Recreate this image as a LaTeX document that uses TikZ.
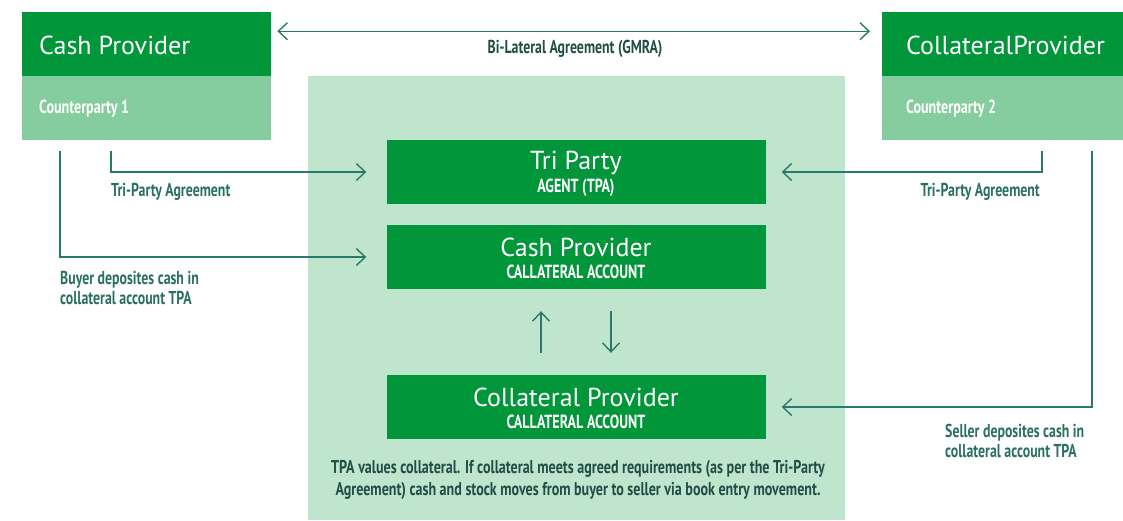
\documentclass[tikz,border=0pt]{standalone}
\usepackage{fontspec}
\setmainfont{PT Sans}
\newfontfamily\condf[FakeStretch=0.74]{PT Sans}
\newfontfamily\condn[FakeStretch=0.76]{PT Sans}
\usetikzlibrary{arrows.meta}
\definecolor{dkgreen}{RGB}{0,150,57}
\definecolor{ltgreen}{RGB}{133,204,158}
\definecolor{panel}{RGB}{192,229,206}
\definecolor{linec}{RGB}{40,122,106}
\definecolor{labelc}{RGB}{42,112,98}
\definecolor{darkc}{RGB}{32,78,70}
\tikzset{
  darkbox/.style={fill=dkgreen, draw=none, inner sep=0pt, anchor=north west},
  lightbox/.style={fill=ltgreen, draw=none, inner sep=0pt, anchor=north west},
  midbox/.style={fill=dkgreen, draw=none, inner sep=0pt, minimum width=379pt, minimum height=64pt},
  title/.style={text=white, font=\fontsize{26}{30}\selectfont, inner sep=0pt},
  subtitle/.style={text=white, font=\condf\bfseries\fontsize{19}{22}\selectfont, inner sep=0pt},
  lbl/.style={text=labelc, font=\condf\bfseries\fontsize{18.7}{20}\selectfont, inner sep=0pt, align=left},
  conn/.style={draw=linec, line width=1.4pt, arrows={-Straight Barb[length=9pt,width=17pt,line width=1.4pt]}},
}
\begin{document}
\begin{tikzpicture}[x=1pt,y=-1pt]
\useasboundingbox (0,0) rectangle (1123,520);
% panel
\node[fill=panel, inner sep=0pt, anchor=north west, minimum width=537pt, minimum height=444pt] (pnl) at (308,76) {};
% top boxes
\node[darkbox, minimum width=249pt, minimum height=64pt] (cp) at (22,12) {};
\node[lightbox, minimum width=249pt, minimum height=64pt] (cpl) at (22,76) {};
\node[darkbox, minimum width=241pt, minimum height=64pt] (col) at (882,12) {};
\node[lightbox, minimum width=241pt, minimum height=64pt] (coll) at (882,76) {};
\node[title, anchor=west] (cpt) at (39,45) {Cash Provider};
\node[subtitle, anchor=west] (cpst) at (39,109) {Counterparty 1};
\node[title, anchor=west] (colt) at (906,45) {CollateralProvider};
\node[subtitle, anchor=west] (colst) at (906,109) {Counterparty 2};
% center boxes
\node[midbox] (tpa) at (576,172) {};
\node[midbox] (cpa) at (576,257) {};
\node[midbox] (cola) at (576,407) {};
\node[title] (tpat) at (576,163) {Tri Party};
\node[subtitle] (tpas) at (576,188) {AGENT (TPA)};
\node[title] (cpat) at (576,247) {Cash Provider};
\node[subtitle] (cpas) at (576,272) {CALLATERAL ACCOUNT};
\node[title] (colat) at (576,397) {Collateral Provider};
\node[subtitle] (colas) at (576,422) {CALLATERAL ACCOUNT};
% bilateral
\draw[conn, arrows={Straight Barb[length=9pt,width=17pt,line width=1.4pt]-Straight Barb[length=9pt,width=17pt,line width=1.4pt]}] ([xshift=6pt,yshift=13pt]cp.east) -- ([xshift=-12pt,yshift=13pt]col.west);
\node[lbl, text=darkc] (bil) at (575,49) {Bi-Lateral Agreement (GMRA)};
% left connectors
\coordinate (l1) at (111,151);
\coordinate (l2) at (60,151);
\draw[conn] (l1) |- ([xshift=-20pt]tpa.west);
\draw[conn] (l2) |- ([xshift=-20pt]cpa.west);
\node[lbl, anchor=west] (tpl) at (111,192) {Tri-Party Agreement};
\node[lbl, anchor=north west] (buy) at (60,271) {Buyer deposites cash in\\collateral account TPA};
% right connectors
\coordinate (r1) at (1042,151);
\coordinate (r2) at (1092,151);
\draw[conn] (r1) |- ([xshift=16pt]tpa.east);
\draw[conn] (r2) |- ([xshift=16pt]cola.east);
\node[lbl, anchor=east] (tpr) at (1040,192) {Tri-Party Agreement};
\node[lbl, anchor=north west] (sel) at (945,424) {Seller deposites cash in\\collateral account TPA};
% vertical arrows
\draw[conn] ([xshift=-35pt,yshift=22pt]cola.north) -- ([xshift=-35pt,yshift=-22pt]cpa.south);
\draw[conn] ([xshift=35pt,yshift=-22pt]cpa.south) -- ([xshift=35pt,yshift=22pt]cola.north);
% bottom note
\node[lbl, text=darkc, font=\condn\bfseries\fontsize{18.5}{22}\selectfont, align=center, anchor=north] (note) at (578,460) {TPA values collateral. If collateral meets agreed requirements (as per the Tri-Party\\Agreement) cash and stock moves from buyer to seller via book entry movement.};
\end{tikzpicture}
\end{document}
